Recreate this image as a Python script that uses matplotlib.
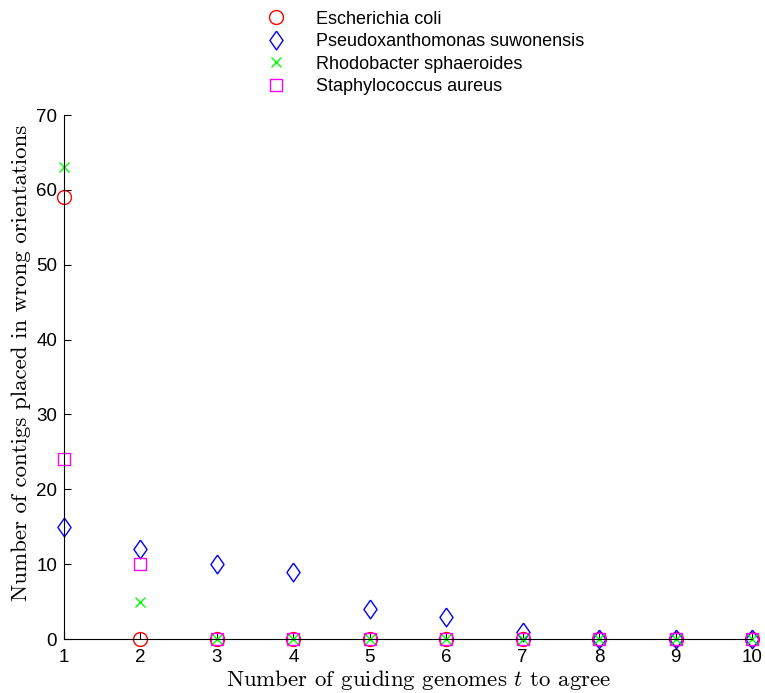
import numpy as np
import matplotlib
matplotlib.use("Agg")
import matplotlib.pyplot as plt

plt.rcParams['mathtext.fontset'] = 'cm'
plt.rcParams['axes.unicode_minus'] = False

t = [1, 2, 3, 4, 5, 6, 7, 8, 9, 10]
ecoli = [59, 0, 0, 0, 0, 0, 0, 0, 0, 0]
pseudo = [15, 12, 10, 9, 4, 3, 1, 0, 0, 0]
rhodo = [63, 5, 0, 0, 0, 0, 0, 0, 0, 0]
staph = [24, 10, 0, 0, 0, 0, 0, 0, 0, 0]

names = ["Escherichia coli", "Pseudoxanthomonas suwonensis",
         "Rhodobacter sphaeroides", "Staphylococcus aureus"]

# matlab style diamond, a bit narrower than tall
diamond = [(0, 1), (0.7, 0), (0, -1), (-0.7, 0), (0, 1)]

fig = plt.figure(figsize=(7.65, 6.93), dpi=100)
ax = fig.add_axes([64/765, 54/693, 688/765, 524/693])

ax.plot(t, ecoli, 'o', color='#ff0000', mfc='none', ms=10, mew=1, clip_on=False, label=names[0])
ax.plot(t, pseudo, marker=diamond, ls='none', color='#0000ff', mfc='none', ms=13.5, mew=1,
        clip_on=False, label=names[1])
ax.plot(t, rhodo, 'x', color='#00ff00', ms=7, mew=1, clip_on=False, label=names[2])
ax.plot(t, staph, 's', color='#ff00ff', mfc='none', ms=8, mew=1, clip_on=False, label=names[3])

ax.set_xlim(1, 10)
ax.set_ylim(0, 70)
ax.set_xticks(t)
ax.set_yticks(np.arange(0, 71, 10))
for s in ['top', 'right']:
    ax.spines[s].set_visible(False)
ax.tick_params(direction='in', length=5, labelsize=13.5)
ax.tick_params(axis='x', pad=7)
ax.tick_params(axis='y', pad=5)
for lbl in ax.get_xticklabels() + ax.get_yticklabels():
    lbl.set_family('Liberation Sans')

ax.set_xlabel("Number of guiding genomes $t$ to agree", family='cmr10', fontsize=16.5)
ax.set_ylabel("Number of contigs placed in wrong orientations", family='cmr10', fontsize=16.5)
ax.xaxis.set_label_coords((419 - 64) / 688, (639 - 668) / 524)
ax.yaxis.set_label_coords((31 - 64) / 688, (639 - 363) / 524)

fig.legend(loc='upper left', bbox_to_anchor=(251/765, 0.995), frameon=False,
           prop={'family': 'Liberation Sans', 'size': 13}, handletextpad=1.2,
           labelspacing=0.3, borderaxespad=0)

fig.savefig("out.png", dpi=100)
